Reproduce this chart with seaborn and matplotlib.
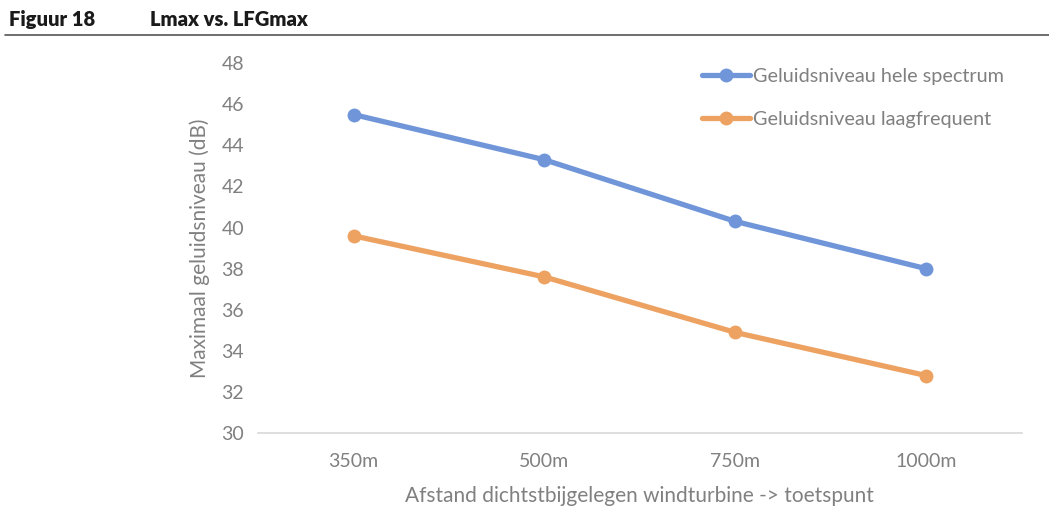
import matplotlib
matplotlib.use("Agg")
import matplotlib.pyplot as plt
import seaborn as sns
import pandas as pd

# Data
distances = ["350m", "500m", "750m", "1000m"]
lmax = [45.5, 43.3, 40.3, 38.0]
lfgmax = [39.6, 37.6, 34.9, 32.8]
series_names = ["Geluidsniveau hele spectrum", "Geluidsniveau laagfrequent"]
y_ticks = [30, 32, 34, 36, 38, 40, 42, 44, 46, 48]

df = pd.DataFrame({
    "Afstand": distances * 2,
    "Niveau": lmax + lfgmax,
    "Reeks": [series_names[0]] * len(distances) + [series_names[1]] * len(distances),
})

sns.set_theme(style="white")
plt.rcParams["font.family"] = ["Lato", "DejaVu Sans"]

grey = "#808080"
palette = {series_names[0]: "#7096D9", series_names[1]: "#EDA262"}

fig = plt.figure(figsize=(10.49, 5.09), dpi=100)
ax = fig.add_axes([0.246, 0.149, 0.728, 0.727])

sns.lineplot(data=df, x="Afstand", y="Niveau", hue="Reeks", palette=palette,
             marker="o", markersize=10, markeredgewidth=0, linewidth=3.8,
             sort=False, ax=ax)

ax.set_xlim(-0.5, 3.5)
ax.set_ylim(30, 48)
ax.set_yticks(y_ticks)
ax.tick_params(axis="both", colors=grey, labelsize=14, length=0, pad=10)
ax.tick_params(axis="x", pad=14)
for s in ["left", "right", "top"]:
    ax.spines[s].set_visible(False)
ax.spines["bottom"].set_color("#d9d9d9")
ax.spines["bottom"].set_linewidth(1.2)

ax.set_xlabel("Afstand dichtstbijgelegen windturbine -> toetspunt", color=grey, fontsize=15, labelpad=12)
ax.set_ylabel("Maximaal geluidsniveau (dB)", color=grey, fontsize=15, labelpad=8)

leg = ax.legend(loc="upper right", bbox_to_anchor=(1.0, 1.035), frameon=False, fontsize=14.3,
                handlelength=2.4, handletextpad=0.15, labelspacing=1.3, title=None)
for t in leg.get_texts():
    t.set_color(grey)

# Header
fig.text(0.009, 0.962, "Figuur 18", fontsize=14.5, fontweight="heavy", color="#1a1a1a", va="center")
fig.text(0.143, 0.962, "Lmax vs. LFGmax", fontsize=14.5, fontweight="heavy", color="#1a1a1a", va="center")
fig.add_artist(plt.Line2D([0.005, 1.0], [0.931, 0.931], color="#555555", linewidth=1.2))

fig.savefig("out.png", dpi=100)
